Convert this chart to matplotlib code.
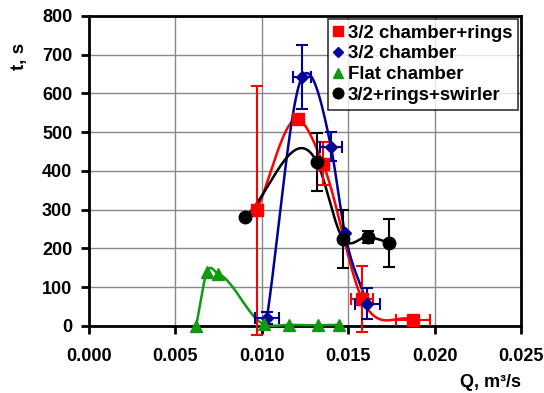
import numpy as np
import matplotlib
matplotlib.use("Agg")
import matplotlib.pyplot as plt

plt.rcParams['font.family'] = ['Liberation Sans', 'DejaVu Sans']
plt.rcParams['font.weight'] = 'bold'

# 3/2 chamber+rings
red_q = [0.0097, 0.0121, 0.01354, 0.0158, 0.01875]
red_t = [298, 533, 419, 70, 16]
red_yerr = [320, 0, 55, 85, 0]
red_xerr = [0, 0, 0.0003, 0.00066, 0.001]

# 3/2 chamber
blue_q = [0.0103, 0.01233, 0.0140, 0.01481, 0.0161]
blue_t = [21, 642, 463, 240, 57]
blue_yerr = [15, 82, 38, 0, 40]
blue_xerr = [0.00072, 0.0005, 0.00064, 0, 0.00072]

# Flat chamber
green_q = [0.0062, 0.00683, 0.00747, 0.0101, 0.01157, 0.01325, 0.01447]
green_t = [0, 140, 135, 5, 3, 2, 3]

# 3/2+rings+swirler
black_q = [0.00903, 0.0132, 0.0147, 0.01615, 0.01736]
black_t = [282, 422, 225, 230, 215]
black_yerr = [0, 75, 75, 15, 62]

x_ticks = [0.000, 0.005, 0.010, 0.015, 0.020, 0.025]
y_ticks = [0, 100, 200, 300, 400, 500, 600, 700, 800]


def smooth(xs, ys, n=60):
    """Cubic Hermite curve through the points with three-point tangents."""
    x = np.asarray(xs, float)
    y = np.asarray(ys, float)
    h = np.diff(x)
    s = np.diff(y) / h
    m = np.empty_like(x)
    m[0] = s[0]
    m[-1] = s[-1]
    for i in range(1, len(x) - 1):
        m[i] = (h[i] * s[i - 1] + h[i - 1] * s[i]) / (h[i - 1] + h[i])
    outx, outy = [], []
    for i in range(len(x) - 1):
        u = np.linspace(0, 1, n)
        h00 = 2 * u**3 - 3 * u**2 + 1
        h10 = u**3 - 2 * u**2 + u
        h01 = -2 * u**3 + 3 * u**2
        h11 = u**3 - u**2
        yy = h00 * y[i] + h10 * h[i] * m[i] + h01 * y[i + 1] + h11 * h[i] * m[i + 1]
        xx = x[i] + u * h[i]
        if i > 0:
            xx, yy = xx[1:], yy[1:]
        outx.append(xx)
        outy.append(yy)
    return np.concatenate(outx), np.concatenate(outy)


fig = plt.figure(figsize=(5.44, 3.93), dpi=100)
ax = fig.add_axes([0.1636, 0.1705, 0.794, 0.789])

ax.set_xlim(0, 0.025)
ax.set_ylim(0, 800)
ax.set_xticks(x_ticks)
ax.set_xticklabels([f"{v:.3f}" for v in x_ticks])
ax.set_yticks(y_ticks)
ax.grid(True, color='#888888', linewidth=1.0)
ax.set_axisbelow(True)
for sp in ax.spines.values():
    sp.set_linewidth(2)
ax.tick_params(axis='both', direction='out', length=5.5, width=2, labelsize=13)
ax.tick_params(axis='x', pad=10.5)
ax.tick_params(axis='y', pad=6.5)

series = [
    (red_q, red_t, red_xerr, red_yerr, '#FF0000', 's', 8, '3/2 chamber+rings'),
    (blue_q, blue_t, blue_xerr, blue_yerr, '#000099', 'D', 6.5, '3/2 chamber'),
    (green_q, green_t, None, None, '#119911', '^', 8, 'Flat chamber'),
    (black_q, black_t, None, black_yerr, '#000000', 'o', 9, '3/2+rings+swirler'),
]

handles = []
for q, t, xe, ye, col, mk, ms, lab in series:
    sx, sy = smooth(q, t)
    ax.plot(sx, sy, color=col, linewidth=1.8, clip_on=False, zorder=3)
    if xe is not None or ye is not None:
        ax.errorbar(q, t, xerr=xe, yerr=ye, fmt='none', ecolor=col, elinewidth=1.5,
                    capsize=4, capthick=1.5, clip_on=False, zorder=4)
    h, = ax.plot(q, t, linestyle='none', marker=mk, markersize=ms, color=col,
                 markeredgecolor=col, clip_on=False, zorder=5, label=lab)
    handles.append(h)

leg = ax.legend(handles=handles, loc='upper right', fontsize=13.4, frameon=True,
                fancybox=False, edgecolor='black', handlelength=0.5, handletextpad=0.25,
                borderpad=0.32, labelspacing=0.2, borderaxespad=0.15, markerscale=0.85)
leg.get_frame().set_linewidth(1.2)

ax.set_xlabel('Q, m\u00b3/s', loc='right', fontsize=13, fontweight='bold', labelpad=6)
ax.set_ylabel('t, s', fontsize=13.5, fontweight='bold')
ax.yaxis.set_label_coords(-0.141, 0.868)

fig.savefig('out.png', dpi=100)
